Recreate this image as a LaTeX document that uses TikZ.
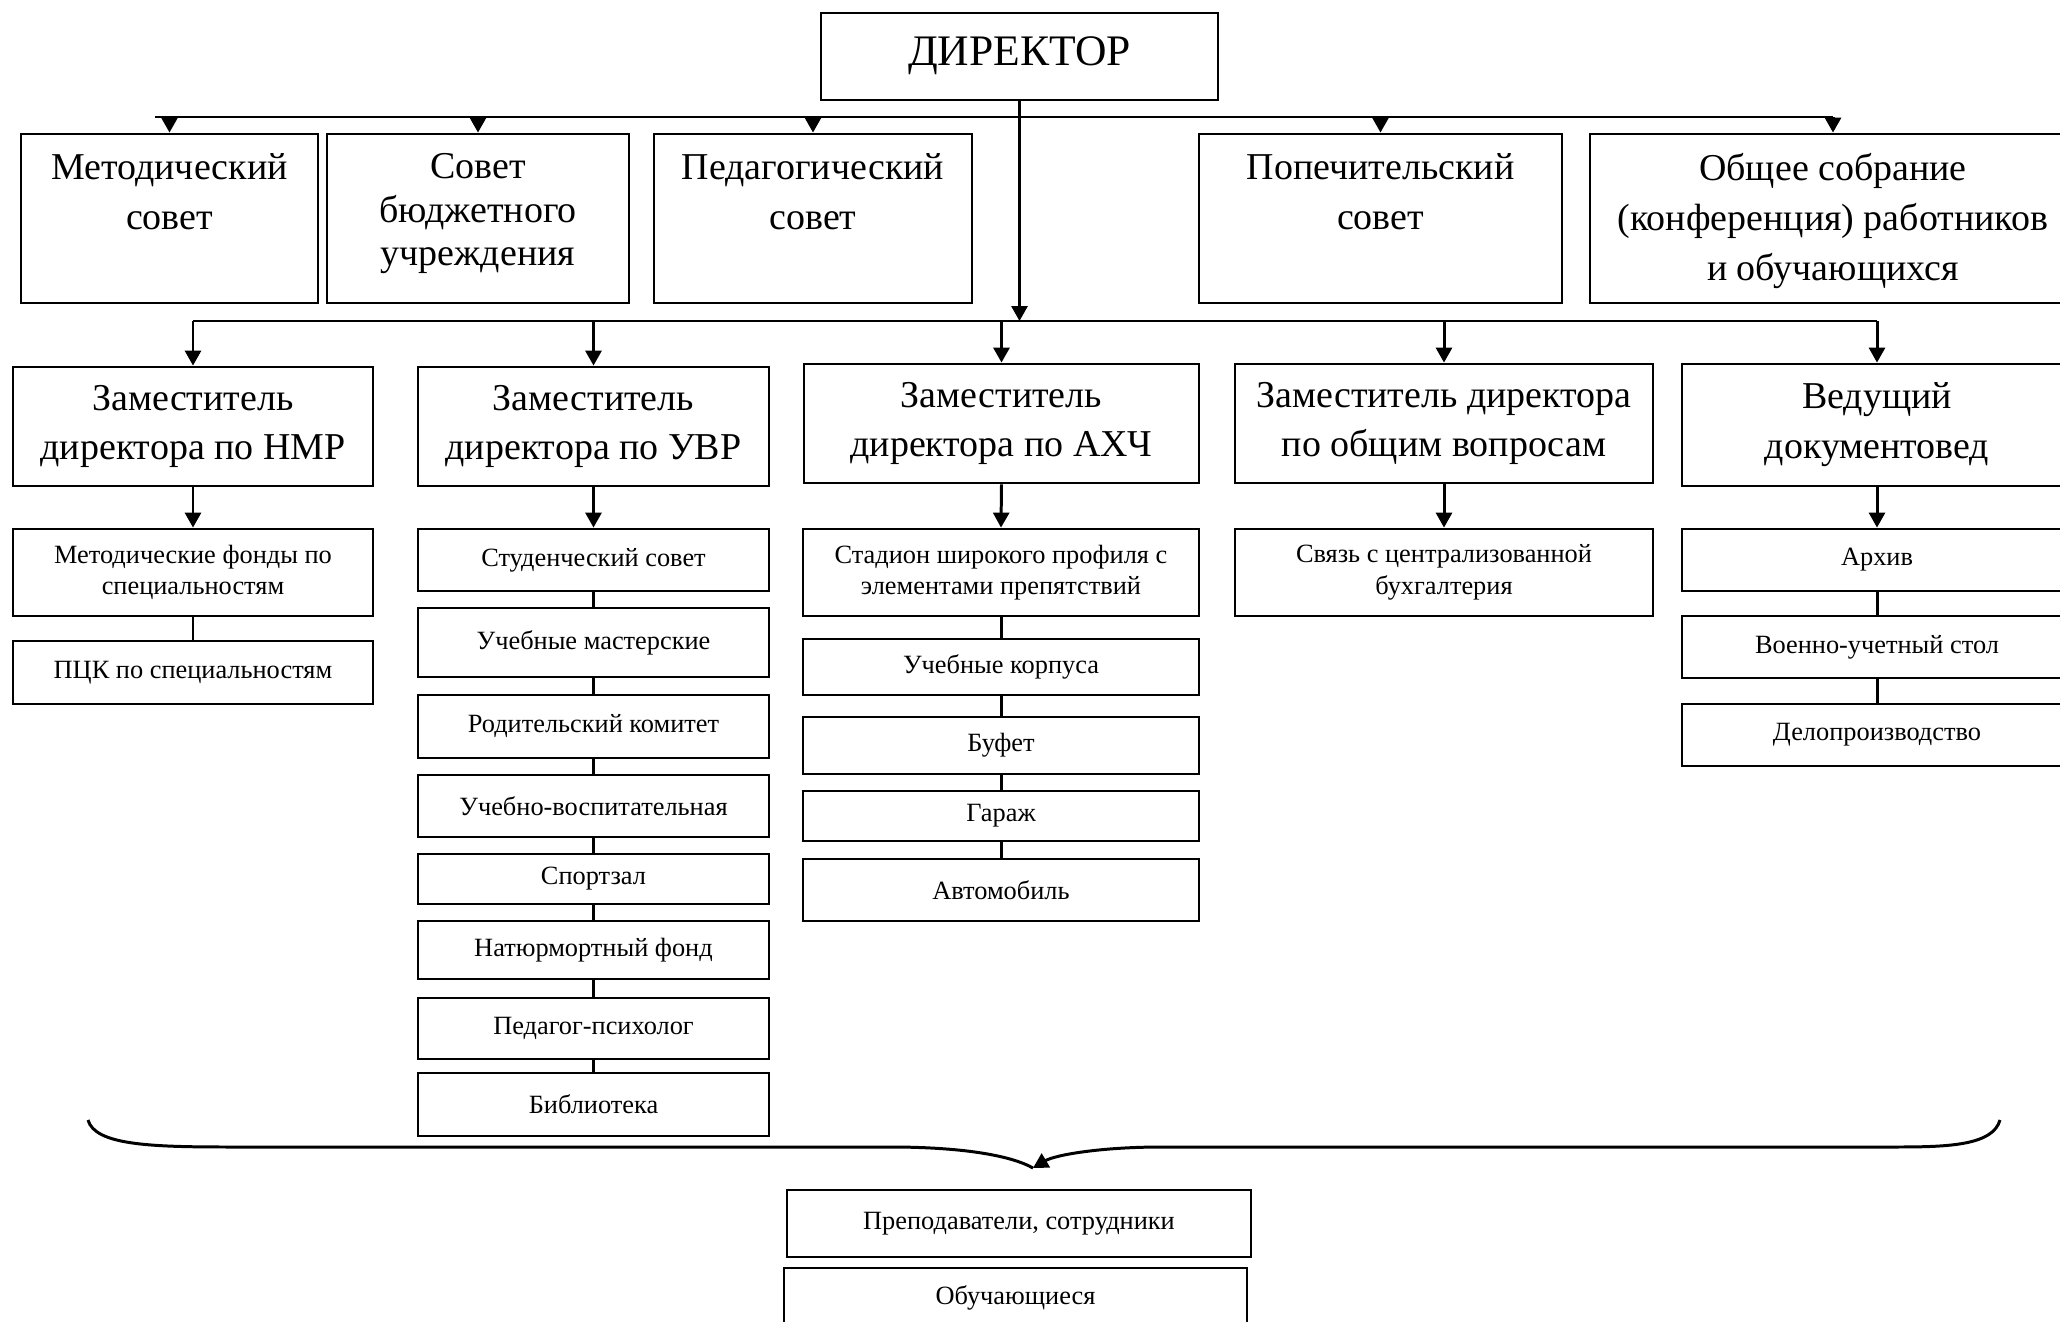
\documentclass[tikz,border=0pt]{standalone}
\usepackage{fontspec}
\setmainfont{Liberation Serif}
\usetikzlibrary{arrows.meta}

\begin{document}
\begin{tikzpicture}
        \tikzstyle{unit} = [draw, line width=0.8pt, inner sep=0pt]
        \tikzstyle{big} = [font=\fontsize{10.8}{14.2}\selectfont, align=center]
        \tikzstyle{small} = [font=\fontsize{7.5}{9}\selectfont, align=center]
        \tikzstyle{toptext} = [anchor=north, yshift=-0.2cm, inner sep=0pt, align=center, font=\fontsize{10.8}{14.2}\selectfont]
        \tikzstyle{link} = [line width=0.85pt]
        \tikzstyle{arr} = [line width=0.85pt, -{Triangle[length=0.15cm, width=0.16cm]}]

        \useasboundingbox (0,0) rectangle (20.6,-13.22);
        \clip (0,0) rectangle (20.6,-13.22);

        \node[unit, minimum width=3.97cm, minimum height=0.87cm, label={[toptext, yshift=-0.04cm, font=\fontsize{12.4}{14}\selectfont]90:{ДИРЕКТОР}}] (dir) at (10.195,-0.565) {};

        \node[unit, minimum width=2.97cm, minimum height=1.69cm, label={[toptext]90:{Методический\\совет}}] (met) at (1.695,-2.185) {};
        \node[unit, minimum width=3.02cm, minimum height=1.69cm, label={[toptext, font=\fontsize{10.8}{12.4}\selectfont]90:{Совет\\бюджетного\\учреждения}}] (bud) at (4.78,-2.185) {};
        \node[unit, minimum width=3.18cm, minimum height=1.69cm, label={[toptext]90:{Педагогический\\совет}}] (ped) at (8.13,-2.185) {};
        \node[unit, minimum width=3.63cm, minimum height=1.69cm, label={[toptext]90:{Попечительский\\совет}}] (pop) at (13.805,-2.185) {};
        \node[unit, minimum width=4.86cm, minimum height=1.69cm, label={[toptext]90:{Общее собрание\\(конференция) работников\\и обучающихся}}] (obs) at (18.33,-2.185) {};

        \node[unit, big, minimum width=3.60cm, minimum height=1.19cm] (nmr) at (1.93,-4.265) {Заместитель\\директора по НМР};
        \node[unit, big, minimum width=3.51cm, minimum height=1.19cm] (uvr) at (5.935,-4.265) {Заместитель\\директора по УВР};
        \node[unit, big, minimum width=3.95cm, minimum height=1.19cm] (ahch) at (10.015,-4.235) {Заместитель\\директора по АХЧ};
        \node[unit, big, minimum width=4.18cm, minimum height=1.19cm] (obv) at (14.44,-4.235) {Заместитель директора\\по общим вопросам};
        \node[unit, big, minimum width=3.90cm, minimum height=1.22cm] (doc) at (18.77,-4.25) {Ведущий\\документовед};

        \node[unit, small, minimum width=3.60cm, minimum height=0.87cm] (nmr1) at (1.93,-5.725) {Методические фонды по\\специальностям};
        \node[unit, small, minimum width=3.60cm, minimum height=0.63cm] (nmr2) at (1.93,-6.725) {ПЦК по специальностям};

        \node[unit, small, minimum width=3.51cm, minimum height=0.62cm] (uvr1) at (5.935,-5.60) {Студенческий совет};
        \node[unit, small, minimum width=3.51cm, minimum height=0.69cm] (uvr2) at (5.935,-6.425) {Учебные мастерские};
        \node[unit, small, minimum width=3.51cm, minimum height=0.63cm] (uvr3) at (5.935,-7.265) {Родительский комитет};
        \node[unit, small, minimum width=3.51cm, minimum height=0.62cm] (uvr4) at (5.935,-8.06) {Учебно-воспитательная};
        \node[unit, small, minimum width=3.51cm, minimum height=0.50cm] (uvr5) at (5.935,-8.79) {Спортзал};
        \node[unit, small, minimum width=3.51cm, minimum height=0.58cm] (uvr6) at (5.935,-9.50) {Натюрмортный фонд};
        \node[unit, small, minimum width=3.51cm, minimum height=0.61cm] (uvr7) at (5.935,-10.285) {Педагог-психолог};
        \node[unit, small, minimum width=3.51cm, minimum height=0.63cm] (uvr8) at (5.935,-11.045) {Библиотека};

        \node[unit, small, minimum width=3.96cm, minimum height=0.87cm] (ahch1) at (10.01,-5.725) {Стадион широкого профиля с\\элементами препятствий};
        \node[unit, small, minimum width=3.96cm, minimum height=0.56cm] (ahch2) at (10.01,-6.67) {Учебные корпуса};
        \node[unit, small, minimum width=3.96cm, minimum height=0.57cm] (ahch3) at (10.01,-7.455) {Буфет};
        \node[unit, small, minimum width=3.96cm, minimum height=0.50cm] (ahch4) at (10.01,-8.16) {Гараж};
        \node[unit, small, minimum width=3.96cm, minimum height=0.62cm] (ahch5) at (10.01,-8.90) {Автомобиль};

        \node[unit, small, minimum width=4.18cm, minimum height=0.87cm] (obv1) at (14.44,-5.725) {Связь с централизованной\\бухгалтерия};

        \node[unit, small, minimum width=3.90cm, minimum height=0.62cm] (doc1) at (18.77,-5.60) {Архив};
        \node[unit, small, minimum width=3.90cm, minimum height=0.62cm] (doc2) at (18.77,-6.47) {Военно-учетный стол};
        \node[unit, small, minimum width=3.90cm, minimum height=0.62cm] (doc3) at (18.77,-7.35) {Делопроизводство};

        \node[unit, small, minimum width=4.64cm, minimum height=0.67cm] (prep) at (10.19,-12.235) {Преподаватели, сотрудники};
        \node[unit, small, minimum width=4.63cm, minimum height=0.60cm] (obuch) at (10.155,-12.98) {Обучающиеся};

        \coordinate (bus1) at (1.55,-1.17);
        \coordinate (bus2) at (0,-3.21);

        \draw[link] (bus1) -- (obs.north |- bus1);
        \draw[arr] (met.north |- bus1) -- (met.north);
        \draw[arr] (bud.north |- bus1) -- (bud.north);
        \draw[arr] (ped.north |- bus1) -- (ped.north);
        \draw[arr] (pop.north |- bus1) -- (pop.north);
        \draw[arr] (obs.north |- bus1) -- (obs.north);

        \draw[arr] (dir.south) -- (dir.south |- bus2);
        \draw[link] (nmr.north |- bus2) -- (doc.north |- bus2);
        \draw[arr] (nmr.north |- bus2) -- (nmr.north);
        \draw[arr] (uvr.north |- bus2) -- (uvr.north);
        \draw[arr] (ahch.north |- bus2) -- (ahch.north);
        \draw[arr] (obv.north |- bus2) -- (obv.north);
        \draw[arr] (doc.north |- bus2) -- (doc.north);

        \draw[arr] (nmr.south) -- (nmr1.north);
        \draw[arr] (uvr.south) -- (uvr1.north);
        \draw[arr] (ahch.south) -- (ahch1.north);
        \draw[arr] (obv.south) -- (obv1.north);
        \draw[arr] (doc.south) -- (doc1.north);

        \draw[link] (nmr1.south) -- (nmr2.north);
        \draw[link] (uvr1.south) -- (uvr2.north);
        \draw[link] (uvr2.south) -- (uvr3.north);
        \draw[link] (uvr3.south) -- (uvr4.north);
        \draw[link] (uvr4.south) -- (uvr5.north);
        \draw[link] (uvr5.south) -- (uvr6.north);
        \draw[link] (uvr6.south) -- (uvr7.north);
        \draw[link] (uvr7.south) -- (uvr8.north);
        \draw[link] (ahch1.south) -- (ahch2.north);
        \draw[link] (ahch2.south) -- (ahch3.north);
        \draw[link] (ahch3.south) -- (ahch4.north);
        \draw[link] (ahch4.south) -- (ahch5.north);
        \draw[link] (doc1.south) -- (doc2.north);
        \draw[link] (doc2.south) -- (doc3.north);

        \coordinate (brl) at (0.88,-11.2);
        \coordinate (brr) at (20.0,-11.2);
        \coordinate (brtip) at (10.33,-11.68);
        \draw[link] (brl) .. controls (0.95,-11.45) and (1.5,-11.47) .. (2.3,-11.47) -- (8.9,-11.47) .. controls (9.6,-11.47) and (10.1,-11.55) .. (brtip);
        \draw[arr] (brr) .. controls (19.93,-11.45) and (19.5,-11.47) .. (18.97,-11.47) -- (11.62,-11.47) .. controls (11.0,-11.47) and (10.55,-11.55) .. (brtip);

    \end{tikzpicture}
\end{document}
